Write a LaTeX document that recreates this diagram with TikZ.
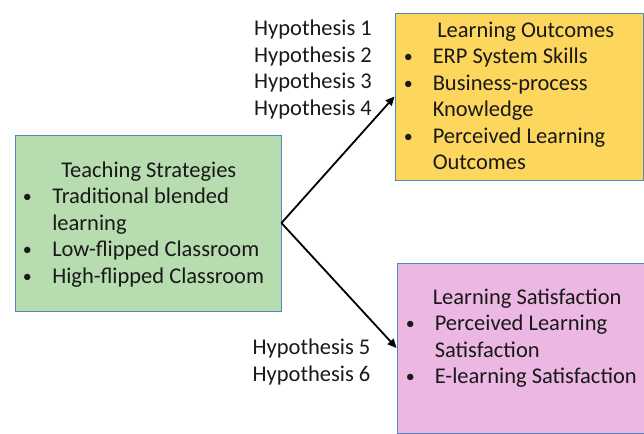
\documentclass[tikz,border=0pt]{standalone}
\usepackage{fontspec}
\setmainfont{Carlito}
\usepackage{xcolor}
\usetikzlibrary{arrows.meta,positioning}

\definecolor{boxgreen}{RGB}{182,220,175}
\definecolor{boxyellow}{RGB}{253,214,93}
\definecolor{boxpink}{RGB}{236,183,226}
\definecolor{boxline}{RGB}{80,135,195}

\newcommand{\boxfont}{\fontsize{22.5}{26.5}\selectfont}
\newcommand{\itembullet}{{\fontsize{18}{18}\selectfont\raisebox{1.2pt}{\textbullet}}}

\begin{document}
\begin{tikzpicture}[
  x=1pt, y=-1pt,
  box/.style={rectangle, draw=boxline, line width=0.9pt, inner sep=0pt},
  content/.style={inner sep=0pt, font=\boxfont, text=black!90},
  link/.style={-{Triangle[length=9pt,width=8pt]}, line width=1.8pt}
]
\clip (0,0) rectangle (644,433);

% Boxes
\node[box, fill=boxgreen, minimum width=266pt, minimum height=176pt] (strategies) at (148,223) {};
\node[box, fill=boxyellow, minimum width=248pt, minimum height=167pt] (outcomes) at (519,96.5) {};
\node[box, fill=boxpink, minimum width=252pt, minimum height=170pt] (satisfaction) at (523,348) {};

% Box contents
\node[content, below right=24pt and 8pt of strategies.north west] (strategiesText) {%
  \begin{tabular}{@{}p{29.5pt}@{}l@{}}
    \multicolumn{2}{@{}l@{}}{\hspace*{38.5pt}Teaching Strategies}\\
    \itembullet & Traditional blended\\
                & learning\\
    \itembullet & Low-flipped Classroom\\
    \itembullet & High-flipped Classroom
  \end{tabular}};

\node[content, below right=6pt and 9pt of outcomes.north west] (outcomesText) {%
  \begin{tabular}{@{}p{29pt}@{}l@{}}
    \multicolumn{2}{@{}l@{}}{\hspace*{33.5pt}Learning Outcomes}\\
    \itembullet & ERP System Skills\\
    \itembullet & Business-process\\
                & Knowledge\\
    \itembullet & Perceived Learning\\
                & Outcomes
  \end{tabular}};

\node[content, below right=23pt and 9pt of satisfaction.north west] (satisfactionText) {%
  \begin{tabular}{@{}p{29pt}@{}l@{}}
    \multicolumn{2}{@{}l@{}}{\hspace*{27pt}Learning Satisfaction}\\
    \itembullet & Perceived Learning\\
                & Satisfaction\\
    \itembullet & E-learning Satisfaction
  \end{tabular}};

% Hypotheses
\node[content, anchor=north west] (hypUpper) at (254,17) {%
  \begin{tabular}{@{}l@{}}
    Hypothesis 1\\ Hypothesis 2\\ Hypothesis 3\\ Hypothesis 4
  \end{tabular}};
\node[content, anchor=north west] (hypLower) at (252.5,336) {%
  \begin{tabular}{@{}l@{}}
    Hypothesis 5\\ Hypothesis 6
  \end{tabular}};

% Links
\draw[link] (strategies.east) -- (outcomes.west);
\draw[link] (strategies.east) -- (satisfaction.west);

\end{tikzpicture}
\end{document}
